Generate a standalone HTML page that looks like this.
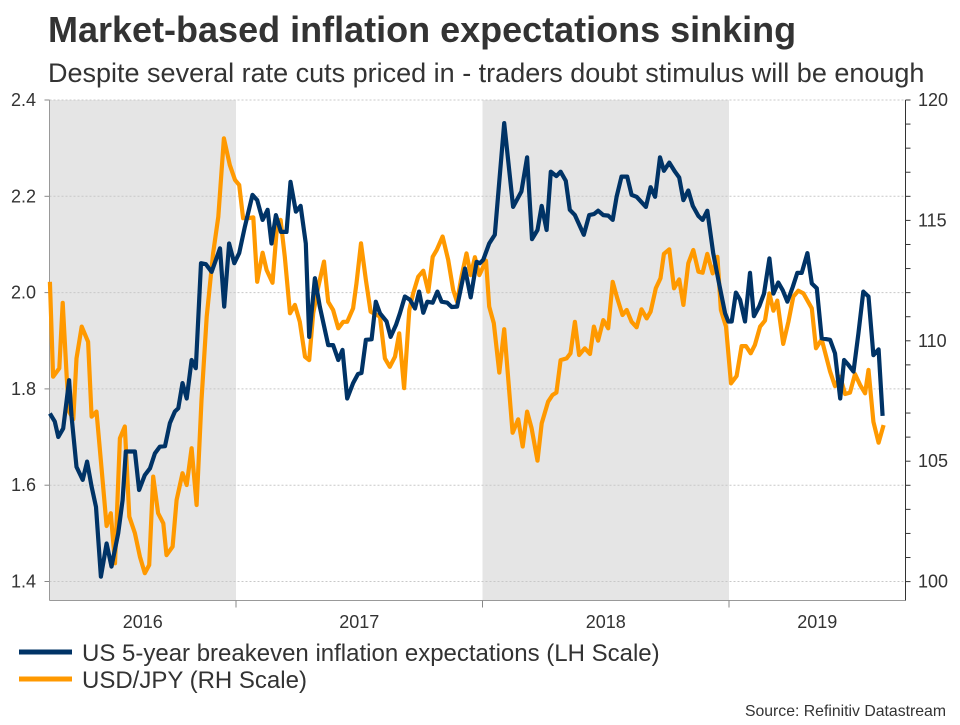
<!DOCTYPE html>
<html><head><meta charset="utf-8"><style>
body{margin:0;background:#fff;font-family:"Liberation Sans",Arial,sans-serif;}
svg text{font-family:"Liberation Sans",Arial,sans-serif;}
</style></head><body>
<svg id="chart" width="960" height="720" viewBox="0 0 960 720">
<text x="48" y="42" font-size="36" font-weight="bold" fill="#333">Market-based inflation expectations sinking</text>
<text x="48" y="82" font-size="27" fill="#333">Despite several rate cuts priced in - traders doubt stimulus will be enough</text>
<g id="plot"></g>
<line x1="19" y1="652" x2="72" y2="652" stroke="#003366" stroke-width="5"/>
<text x="82" y="661" font-size="24" fill="#333">US 5-year breakeven inflation expectations (LH Scale)</text>
<line x1="19" y1="679" x2="72" y2="679" stroke="#ff9900" stroke-width="5"/>
<text x="82" y="688" font-size="24" fill="#333">USD/JPY (RH Scale)</text>
<text x="946" y="716" font-size="15.8" fill="#333" text-anchor="end">Source: Refinitiv Datastream</text>
</svg>
<script>
const leftTicks=[1.4,1.6,1.8,2.0,2.2,2.4];
const rightTickLabels=[100,105,110,115,120];
const yearLabels=[2016,2017,2018,2019];
const shadedYears=[2016,2018];
const beDates=[2016.245,2016.265,2016.279,2016.299,2016.313,2016.323,2016.333,2016.353,2016.378,2016.396,2016.414,2016.432,2016.452,2016.475,2016.495,2016.522,2016.540,2016.553,2016.590,2016.607,2016.630,2016.651,2016.671,2016.691,2016.712,2016.732,2016.752,2016.766,2016.783,2016.800,2016.820,2016.837,2016.858,2016.878,2016.901,2016.935,2016.952,2016.972,2016.993,2017.013,2017.036,2017.067,2017.086,2017.108,2017.128,2017.144,2017.162,2017.182,2017.205,2017.221,2017.243,2017.262,2017.283,2017.297,2017.320,2017.340,2017.374,2017.394,2017.415,2017.432,2017.451,2017.475,2017.495,2017.509,2017.527,2017.550,2017.567,2017.584,2017.611,2017.627,2017.649,2017.665,2017.685,2017.706,2017.726,2017.743,2017.760,2017.776,2017.798,2017.817,2017.834,2017.857,2017.875,2017.897,2017.929,2017.952,2017.976,2017.989,2018.003,2018.027,2018.050,2018.088,2018.124,2018.158,2018.181,2018.201,2018.223,2018.240,2018.260,2018.277,2018.300,2018.317,2018.338,2018.354,2018.375,2018.411,2018.433,2018.452,2018.469,2018.490,2018.510,2018.528,2018.544,2018.564,2018.587,2018.605,2018.625,2018.663,2018.682,2018.700,2018.720,2018.736,2018.758,2018.781,2018.798,2018.815,2018.835,2018.853,2018.876,2018.893,2018.912,2018.936,2018.957,2018.984,2018.997,2019.011,2019.028,2019.045,2019.065,2019.085,2019.101,2019.123,2019.142,2019.164,2019.180,2019.200,2019.218,2019.237,2019.259,2019.277,2019.295,2019.318,2019.336,2019.356,2019.376,2019.410,2019.430,2019.451,2019.467,2019.484,2019.505,2019.525,2019.545,2019.566,2019.586,2019.607,2019.623];
const beValues=[1.749,1.732,1.700,1.718,1.777,1.818,1.742,1.638,1.611,1.649,1.597,1.555,1.410,1.479,1.431,1.500,1.569,1.670,1.670,1.590,1.621,1.635,1.666,1.680,1.681,1.729,1.753,1.760,1.812,1.780,1.860,1.843,2.061,2.059,2.043,2.092,1.971,2.102,2.061,2.082,2.137,2.203,2.192,2.151,2.172,2.102,2.161,2.126,2.126,2.230,2.168,2.180,2.102,1.908,2.030,1.971,1.891,1.891,1.860,1.881,1.780,1.812,1.831,1.833,1.902,1.903,1.981,1.957,1.940,1.908,1.933,1.957,1.992,1.985,1.967,2.002,1.958,1.981,1.979,2.002,1.981,1.979,1.970,1.971,2.050,1.990,2.064,2.061,2.068,2.102,2.120,2.352,2.178,2.210,2.281,2.111,2.130,2.180,2.130,2.251,2.242,2.251,2.232,2.172,2.161,2.120,2.161,2.163,2.170,2.161,2.160,2.151,2.199,2.241,2.241,2.203,2.199,2.178,2.219,2.199,2.281,2.253,2.270,2.251,2.239,2.192,2.212,2.180,2.159,2.151,2.170,2.082,2.026,1.957,1.940,1.940,2.000,1.985,1.940,2.041,1.951,1.972,1.998,2.071,1.998,2.021,2.005,1.981,2.012,2.041,2.041,2.082,2.019,2.009,1.905,1.902,1.874,1.780,1.860,1.850,1.836,1.915,2.002,1.992,1.870,1.882,1.744];
const fxDates=[2016.245,2016.258,2016.283,2016.297,2016.313,2016.323,2016.340,2016.353,2016.374,2016.400,2016.414,2016.434,2016.455,2016.475,2016.492,2016.509,2016.529,2016.549,2016.567,2016.590,2016.610,2016.630,2016.648,2016.664,2016.684,2016.705,2016.718,2016.743,2016.759,2016.783,2016.800,2016.820,2016.840,2016.860,2016.881,2016.907,2016.928,2016.951,2016.975,2016.996,2017.013,2017.029,2017.050,2017.070,2017.086,2017.108,2017.124,2017.148,2017.165,2017.181,2017.198,2017.219,2017.239,2017.259,2017.280,2017.297,2017.313,2017.334,2017.357,2017.374,2017.394,2017.415,2017.435,2017.451,2017.475,2017.489,2017.507,2017.527,2017.546,2017.584,2017.604,2017.624,2017.645,2017.662,2017.682,2017.703,2017.719,2017.739,2017.760,2017.780,2017.798,2017.814,2017.838,2017.861,2017.881,2017.897,2017.915,2017.935,2017.952,2017.969,2017.987,2018.014,2018.027,2018.046,2018.068,2018.088,2018.122,2018.145,2018.163,2018.181,2018.199,2018.223,2018.240,2018.266,2018.284,2018.300,2018.317,2018.341,2018.357,2018.375,2018.392,2018.415,2018.436,2018.452,2018.469,2018.490,2018.510,2018.528,2018.547,2018.568,2018.585,2018.605,2018.625,2018.645,2018.666,2018.682,2018.703,2018.722,2018.736,2018.758,2018.777,2018.798,2018.815,2018.835,2018.855,2018.876,2018.893,2018.912,2018.934,2018.953,2018.967,2018.988,2019.008,2019.031,2019.051,2019.069,2019.088,2019.105,2019.126,2019.146,2019.164,2019.180,2019.196,2019.220,2019.241,2019.261,2019.281,2019.302,2019.336,2019.353,2019.376,2019.410,2019.430,2019.451,2019.471,2019.491,2019.511,2019.532,2019.552,2019.566,2019.586,2019.607,2019.627];
const fxValues=[112.45,108.51,108.86,111.58,108.51,107.06,106.74,109.27,110.59,109.96,106.85,107.06,104.63,102.31,102.84,100.76,105.95,106.44,102.70,102.01,101.04,100.35,100.69,104.36,102.84,102.42,101.10,101.45,103.39,104.50,104.01,105.54,103.18,107.54,111.00,113.63,115.15,118.41,117.30,116.68,116.47,115.09,115.09,115.13,112.45,113.66,112.94,112.41,114.60,115.02,113.49,111.14,111.49,110.79,109.34,109.20,111.14,112.25,113.29,111.62,111.28,110.52,110.79,110.79,111.35,112.39,114.05,112.52,111.21,111.00,109.27,108.92,109.34,110.31,108.03,111.28,111.97,112.66,112.91,112.04,113.49,113.77,114.33,113.36,112.11,111.62,112.66,113.63,112.73,113.47,112.73,113.33,111.42,110.73,108.68,110.48,106.18,106.74,105.61,107.06,106.37,105.02,106.57,107.47,107.75,107.85,109.20,109.27,109.48,110.79,109.41,109.69,109.45,110.59,110.01,110.86,110.52,112.45,111.76,111.07,111.28,110.79,110.56,111.31,110.93,111.21,112.18,112.60,113.61,113.80,112.18,112.55,111.49,113.22,113.77,112.87,112.83,113.61,112.80,113.49,111.28,110.59,108.23,108.54,109.78,109.78,109.48,109.83,110.59,110.84,111.97,111.25,111.67,109.87,110.79,111.83,112.08,111.97,111.35,109.69,110.06,108.72,108.12,108.51,107.79,107.85,108.62,108.17,107.82,108.79,106.64,105.77,106.50];

const NS='http://www.w3.org/2000/svg';
const L=49.5,R=905.5,T=100,B=600.5;
const xS=t=>236+(t-2017)*246.5;
const yL=v=>100+(2.4-v)*481.5;
const yR=v=>100+(120-v)*24.08;
const g=document.getElementById('plot');
function mk(tag,attrs){const e=document.createElementNS(NS,tag);for(const k in attrs)e.setAttribute(k,attrs[k]);g.appendChild(e);return e;}
shadedYears.forEach(y=>{
  const x0=Math.max(L,xS(y)),x1=Math.min(R,xS(y+1));
  const r=mk('rect',{x:x0,y:T,width:x1-x0,height:B-T,fill:'#e5e5e5'});
  
  
});
leftTicks.forEach(v=>{
  const y=yL(v);
  const gl=mk('line',{x1:L,x2:R,y1:y,y2:y,stroke:'#c8c8c8','stroke-dasharray':'2,2','stroke-width':1});
  
  
  mk('line',{x1:L-5,x2:L,y1:y,y2:y,stroke:'#888'});
  const t=mk('text',{x:36,y:y+6,'font-size':18,fill:'#333','text-anchor':'end'});
  t.textContent=v.toFixed(1);
  
  
});
for(let v=100;v<=120;v++){mk('line',{x1:R,x2:R+5,y1:yR(v),y2:yR(v),stroke:'#333'});}
rightTickLabels.forEach(v=>{
  const t=mk('text',{x:918,y:yR(v)+6,'font-size':18,fill:'#333'});
  t.textContent=v;
  
  
});
mk('line',{x1:L,x2:L,y1:T,y2:B,stroke:'#999'});
mk('line',{x1:L,x2:R,y1:B,y2:B,stroke:'#999'});
mk('line',{x1:R,x2:R,y1:T,y2:B,stroke:'#333'});
yearLabels.forEach(y=>{
  if(y>2016){mk('line',{x1:xS(y),x2:xS(y),y1:B,y2:B+7,stroke:'#888'});}
  const x0=Math.max(L,xS(y)),x1=Math.min(R,xS(y+1));
  const t=mk('text',{x:(x0+x1)/2,y:628,'font-size':18,fill:'#333','text-anchor':'middle'});
  t.textContent=y;
  
  
});
const fx=mk('polyline',{points:fxDates.map((d,i)=>xS(d).toFixed(1)+','+yR(fxValues[i]).toFixed(1)).join(' '),fill:'none',stroke:'#ff9900','stroke-width':4.2,'stroke-linejoin':'round'});


const be=mk('polyline',{points:beDates.map((d,i)=>xS(d).toFixed(1)+','+yL(beValues[i]).toFixed(1)).join(' '),fill:'none',stroke:'#003366','stroke-width':4.2,'stroke-linejoin':'round'});


</script>
</body></html>
